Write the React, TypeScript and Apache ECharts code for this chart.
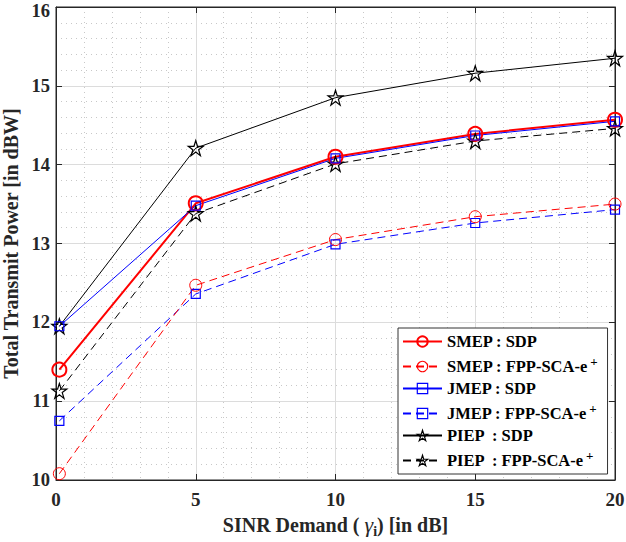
import React, { useEffect, useRef } from "react";
import * as echarts from "echarts";

const xValues = [0.12, 5, 10, 15, 20];
const smepSdp = [11.4, 13.51, 14.1, 14.39, 14.57];
const smepFpp = [10.08, 12.47, 13.05, 13.34, 13.5];
const jmepSdp = [11.95, 13.48, 14.08, 14.37, 14.55];
const jmepFpp = [10.75, 12.36, 12.99, 13.26, 13.43];
const piepSdp = [11.95, 14.21, 14.85, 15.16, 15.35];
const piepFpp = [11.13, 13.38, 14.01, 14.3, 14.46];

const seriesNames = [
  "SMEP : SDP",
  "SMEP : FPP-SCA-e+",
  "JMEP : SDP",
  "JMEP : FPP-SCA-e+",
  "PIEP  : SDP",
  "PIEP  : FPP-SCA-e+",
];

const STAR =
  "path://M50,2 L61,36 L97,36 L68,57 L79,92 L50,70 L21,92 L32,57 L3,36 L39,36 Z";

const FONT = "'Liberation Serif', 'Times New Roman', serif";

function pairs(ys: number[]) {
  return xValues.map((x, i) => [x, ys[i]]);
}

export default function App() {
  const ref = useRef<HTMLDivElement>(null);
  useEffect(() => {
    if (!ref.current) return;
    const chart = echarts.init(ref.current, null, { renderer: "svg" });
    const mk = (
      name: string,
      ys: number[],
      color: string,
      width: number,
      dashed: boolean,
      symbol: string,
      size: number,
      bw: number
    ) => ({
      name,
      type: "line",
      data: pairs(ys),
      symbol,
      symbolSize: size,
      showSymbol: true,
      lineStyle: { color, width, type: dashed ? [8, 5] : "solid" },
      itemStyle: { color: "rgba(255,255,255,0)", borderColor: color, borderWidth: bw },
      emphasis: { disabled: true },
      z: 3,
    });
    const series: any[] = [
      mk(seriesNames[5], piepFpp, "#000000", 1, true, STAR, 15, 1.2),
      mk(seriesNames[4], piepSdp, "#000000", 1, false, STAR, 15, 1.2),
      mk(seriesNames[3], jmepFpp, "#0000ff", 1, true, "rect", 9, 1.2),
      mk(seriesNames[1], smepFpp, "#ff0000", 1, true, "circle", 12, 1),
      mk(seriesNames[0], smepSdp, "#ff0000", 2, false, "circle", 14, 2),
      mk(seriesNames[2], jmepSdp, "#0000ff", 1, false, "rect", 9, 1.2),
    ];
    const legendColors = ["#ff0000", "#ff0000", "#0000ff", "#0000ff", "#000000", "#000000"];
    const gridColor = "#dcdcdc";
    const axisColor = "#262626";
    const tickFont = {
      fontFamily: FONT,
      fontWeight: "bold",
      fontSize: 18.5,
      color: "#262626",
    };
    chart.setOption({
      animation: false,
      backgroundColor: "#ffffff",
      grid: {
        left: 56,
        right: 11,
        top: 7,
        bottom: 62,
        containLabel: false,
        outerBoundsMode: "none",
        show: true,
        borderColor: axisColor,
        borderWidth: 1,
        backgroundColor: "#ffffff",
      },
      legend: {
        data: seriesNames.map((n, i) => ({
          name: n,
          itemStyle: {
            color: "rgba(255,255,255,0)",
            borderColor: legendColors[i],
            borderWidth: i === 0 ? 2 : 1.2,
          },
        })),
        orient: "vertical",
        left: 398,
        top: 328,
        width: 205,
        itemWidth: 39,
        itemHeight: 13,
        itemGap: 5,
        padding: [5, 10, 5, 4],
        borderColor: "#333333",
        borderWidth: 1,
        backgroundColor: "#ffffff",
        selectedMode: false,
        formatter: (n: string) =>
          n.endsWith("+") ? `{t|${n.slice(0, -1)}}{s|+}` : `{t|${n}}`,
        textStyle: {
          fontFamily: FONT,
          fontWeight: "bold",
          fontSize: 16.5,
          color: "#000",
          rich: {
            t: { fontFamily: FONT, fontWeight: "bold", fontSize: 16.5, color: "#000" },
            s: {
              fontFamily: FONT,
              fontWeight: "bold",
              fontSize: 13,
              color: "#000",
              padding: [0, 0, 10, 2],
            },
          },
        },
      },
      xAxis: [
        {
          type: "value",
          min: 0,
          max: 20,
          interval: 5,
          name: "{a|SINR Demand ( }{g|γ}{s|i}{a|) [in dB]}",
          nameLocation: "middle",
          nameGap: 30,
          nameTextStyle: {
            rich: {
              a: { fontFamily: FONT, fontWeight: "bold", fontSize: 20, color: "#262626" },
              g: { fontFamily: FONT, fontStyle: "italic", fontSize: 22, color: "#262626" },
              s: {
                fontFamily: FONT,
                fontWeight: "bold",
                fontSize: 14,
                color: "#262626",
                padding: [14, 0, 0, 0],
              },
            },
          },
          axisLine: { onZero: false, lineStyle: { color: axisColor } },
          axisTick: { inside: true, length: 6, lineStyle: { color: axisColor } },
          axisLabel: {
            fontFamily: FONT,
            fontWeight: "bold",
            fontSize: 19,
            color: "#262626",
            margin: 10,
          },
          splitLine: { show: true, lineStyle: { color: gridColor, width: 1 } },
          minorTick: { show: false, splitNumber: 5 },
          minorSplitLine: {
            show: true,
            lineStyle: { color: "#c8c8c8", type: [1, 4], width: 1 },
          },
        },
        {
          type: "value",
          position: "top",
          min: 0,
          max: 20,
          interval: 5,
          axisLine: { show: true, onZero: false, lineStyle: { color: axisColor } },
          axisTick: { show: true, inside: true, length: 6, lineStyle: { color: axisColor } },
          axisLabel: { show: false },
          splitLine: { show: false },
        },
      ],
      yAxis: [
        {
          type: "value",
          min: 10,
          max: 16,
          interval: 1,
          name: "Total Transmit Power [in dBW]",
          nameLocation: "middle",
          nameGap: 28,
          nameTextStyle: {
            fontFamily: FONT,
            fontWeight: "bold",
            fontSize: 20,
            color: "#262626",
          },
          axisLine: { show: true, onZero: false, lineStyle: { color: axisColor } },
          axisTick: { show: true, inside: true, length: 6, lineStyle: { color: axisColor } },
          axisLabel: {
            ...tickFont,
            margin: 6,
            formatter: (v: number) => (v === 16 ? `{top|${v}}` : `{n|${v}}`),
            rich: {
              n: { ...tickFont },
              top: { ...tickFont, lineHeight: 16, padding: [8, 0, 0, 0] },
            },
          },
          splitLine: { show: true, lineStyle: { color: gridColor, width: 1 } },
          minorTick: { show: false, splitNumber: 5 },
          minorSplitLine: {
            show: true,
            lineStyle: { color: "#c8c8c8", type: [1, 4], width: 1 },
          },
        },
        {
          type: "value",
          position: "right",
          min: 10,
          max: 16,
          interval: 1,
          axisLine: { show: true, onZero: false, lineStyle: { color: axisColor } },
          axisTick: { show: true, inside: true, length: 6, lineStyle: { color: axisColor } },
          axisLabel: { show: false },
          splitLine: { show: false },
        },
      ],
      series,
    });
    return () => chart.dispose();
  }, []);
  return (
    <div
      ref={ref}
      style={{ position: "absolute", left: 0, top: 0, width: 626, height: 542 }}
    />
  );
}
